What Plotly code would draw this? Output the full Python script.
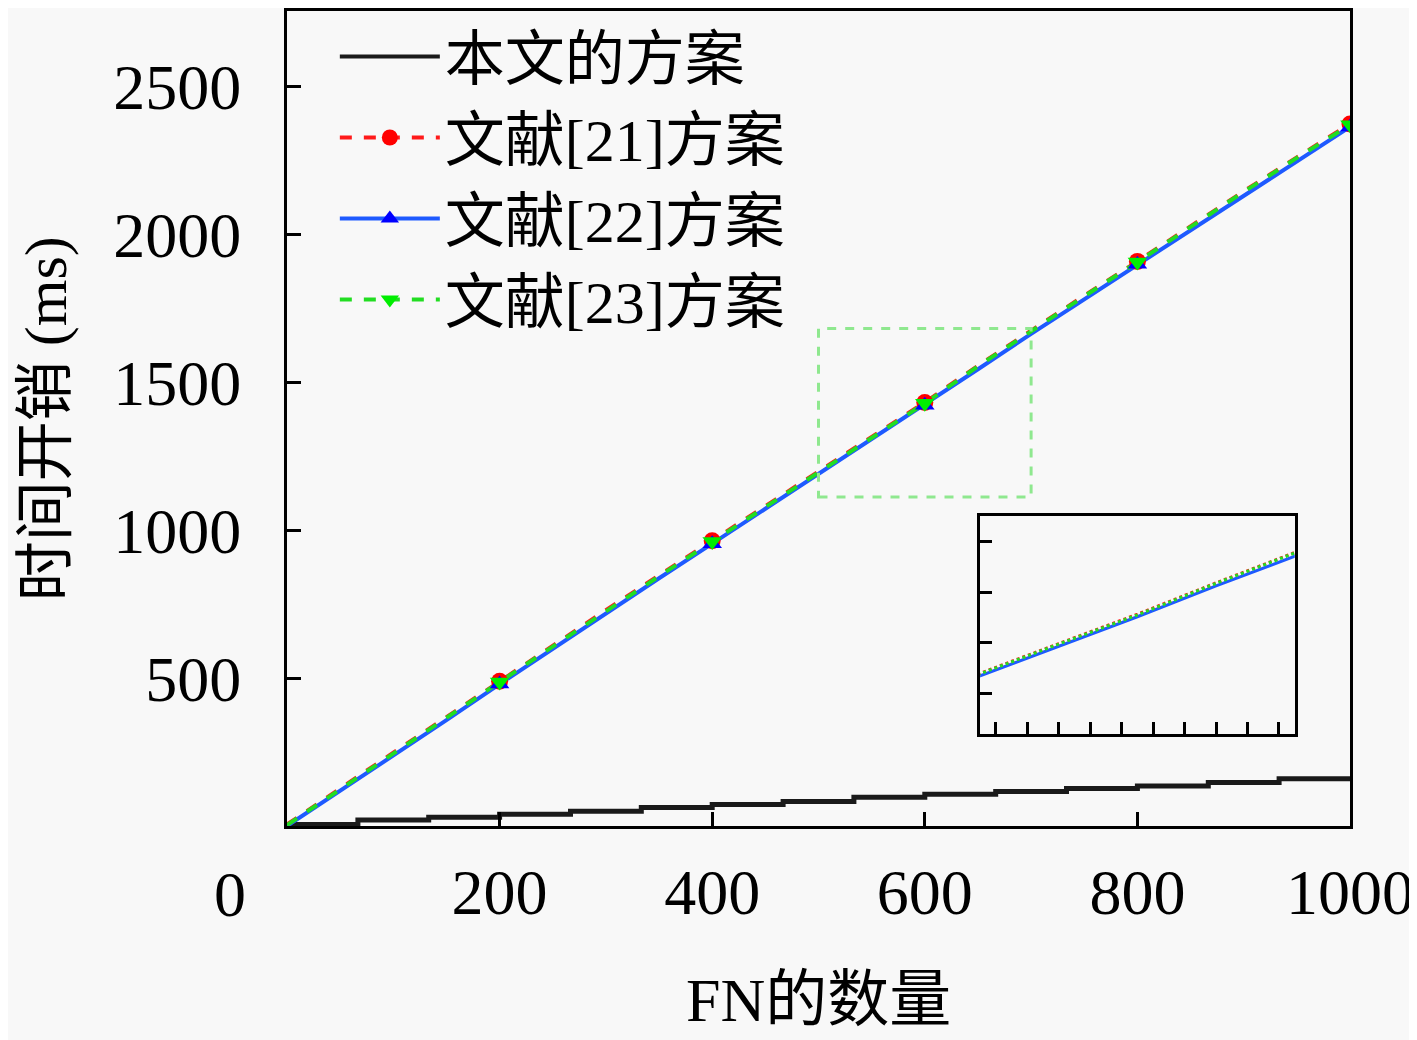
import plotly.graph_objects as go

# data
fn_count = [0, 50, 100, 150, 200, 250, 300, 350, 400, 450, 500,
            550, 600, 650, 700, 750, 800, 850, 900, 950, 1000]
ref21 = [5, 128, 248, 368, 490, 610, 730, 848, 965, 1083, 1200,
         1317, 1433, 1557, 1677, 1794, 1910, 2030, 2147, 2262, 2375]
ref22 = [0, 118, 238, 358, 480, 600, 720, 838, 955, 1073, 1190,
         1307, 1423, 1545, 1665, 1782, 1900, 2018, 2135, 2250, 2365]
ref23 = [3, 125, 245, 365, 487, 607, 727, 845, 962, 1080, 1198,
         1315, 1430, 1555, 1675, 1792, 1908, 2027, 2145, 2260, 2372]

ours_x = [0, 66.7, 133.3, 200, 266.7, 333.3, 400, 466.7, 533.3,
          600, 666.7, 733.3, 800, 866.7, 933.3, 1000]
ours_y = [5, 20, 30, 40, 50, 63, 73, 83, 97, 107, 117, 127, 135, 147, 160, 160]

names = ["本文的方案", "文献[21]方案", "文献[22]方案", "文献[23]方案"]
zoom_box = [500, 700, 1113, 1683]

FONT = "Liberation Serif, Noto Sans CJK SC, serif"
BG = "#f8f8f8"

styles = [
    dict(color="#1a1a1a", dash="solid", symbol=None, mcolor=None),
    dict(color="#ff1a1a", dash="dash", symbol="circle", mcolor="#ff0000"),
    dict(color="#1e5aff", dash="solid", symbol="triangle-up", mcolor="#0000ff"),
    dict(color="#22dd22", dash="dash", symbol="triangle-down", mcolor="#00ee00"),
]

fig = go.Figure()

# legend-only entries
for name, st in zip(names, styles):
    fig.add_trace(go.Scatter(
        x=[None], y=[None], name=name,
        mode="lines" if st["symbol"] is None else "lines+markers",
        line=dict(color=st["color"], width=4, dash=st["dash"]),
        marker=dict(symbol=st["symbol"] or "circle", size=17,
                    color=st["mcolor"] or st["color"])))

fig.add_trace(go.Scatter(x=ours_x, y=ours_y, mode="lines", showlegend=False,
                         line=dict(color="#1a1a1a", width=5, shape="hv")))

mark_x = [x for x in fn_count if x > 0 and x % 200 == 0]
for ys, st in zip([ref21, ref22, ref23], styles[1:]):
    fig.add_trace(go.Scatter(x=fn_count, y=ys, mode="lines", showlegend=False,
                             line=dict(color=st["color"], width=4, dash=st["dash"])))
for ys, st in zip([ref21, ref22, ref23], styles[1:]):
    my = [y for x, y in zip(fn_count, ys) if x in mark_x]
    fig.add_trace(go.Scatter(x=mark_x, y=my, mode="markers", showlegend=False,
                             marker=dict(symbol=st["symbol"], size=17, color=st["mcolor"])))

# inset (zoom of the dashed box)
for ys, col, dash in [(ref22, "#1e5aff", "solid"), (ref21, "#ff1a1a", "dot"),
                      (ref23, "#22dd22", "dot")]:
    fig.add_trace(go.Scatter(x=fn_count, y=ys, mode="lines", showlegend=False,
                             xaxis="x2", yaxis="y2",
                             line=dict(color=col, width=3, dash=dash)))

fig.add_shape(type="rect", xref="x", yref="y",
              x0=zoom_box[0], x1=zoom_box[1], y0=zoom_box[2], y1=zoom_box[3],
              line=dict(color="#8fe88f", width=3, dash="dash"))

fig.add_annotation(text="0", x=-0.054, y=-0.084, xref="paper", yref="paper",
                   xanchor="center", yanchor="middle", showarrow=False,
                   font=dict(size=64, family=FONT, color="black"))
fig.add_annotation(text="FN的数量", x=0.5, y=-0.213, xref="paper", yref="paper",
                   xanchor="center", yanchor="middle", showarrow=False,
                   font=dict(size=62, family=FONT, color="black"))
fig.add_annotation(text="时间开销 (ms)", x=-0.227, y=0.5, xref="paper", yref="paper",
                   xanchor="center", yanchor="middle", showarrow=False, textangle=-90,
                   font=dict(size=60, family=FONT, color="black"))

axis_common = dict(ticks="inside", tickwidth=3, tickcolor="black",
                   showline=True, linecolor="black", linewidth=3, mirror=True,
                   showgrid=False, zeroline=False)

fig.update_layout(
    width=1409, height=1032,
    margin=dict(l=279, r=67, t=0, b=214),
    paper_bgcolor=BG, plot_bgcolor=BG,
    font=dict(family=FONT, size=64, color="black"),
    showlegend=True,
    legend=dict(x=0.045, y=1.0, xanchor="left", yanchor="top", itemwidth=100,
                bgcolor="rgba(0,0,0,0)", font=dict(size=60, family=FONT),
                tracegroupgap=0),
    xaxis=dict(range=[0, 1000], tickvals=[200, 400, 600, 800, 1000],
               ticklen=14, ticklabelstandoff=8, **axis_common),
    yaxis=dict(range=[0, 2757], tickvals=[500, 1000, 1500, 2000, 2500],
               ticklen=14, ticklabelstandoff=30, **axis_common),
    xaxis2=dict(range=[500, 700], tickvals=list(range(510, 700, 20)),
                domain=[0.652, 0.948], anchor="y2", ticklen=12,
                showticklabels=False, **axis_common),
    yaxis2=dict(range=[960, 1820], tickvals=[1120, 1320, 1520, 1720],
                domain=[0.113, 0.380], anchor="x2", ticklen=12,
                showticklabels=False, **axis_common),
)

fig.write_html("out.html")
